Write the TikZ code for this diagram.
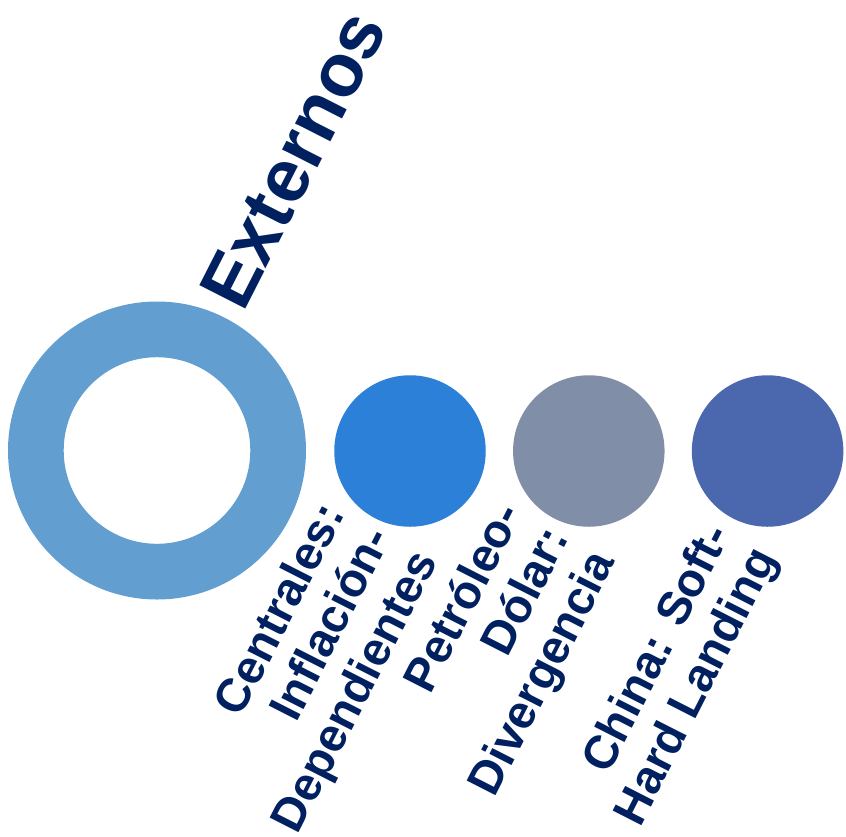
\documentclass[tikz,border=0pt]{standalone}
\usepackage{fontspec}
\setmainfont{Liberation Sans}
\definecolor{ringc}{HTML}{639ED0}
\definecolor{cA}{HTML}{2C80D8}
\definecolor{cB}{HTML}{808EA8}
\definecolor{cC}{HTML}{4B67AE}
\definecolor{navy}{HTML}{002060}
\tikzset{
  dot/.style={circle, inner sep=0pt, minimum size=151.5pt},
  lbl/.style={rotate=63, align=right, anchor=base east, inner sep=0pt, text=navy,
    font=\bfseries\fontsize{47}{52}\selectfont},
  ttl/.style={rotate=63, anchor=base west, inner sep=0pt, text=navy,
    font=\bfseries\fontsize{75}{80}\selectfont}
}
\begin{document}
\begin{tikzpicture}[x=1pt,y=-1pt]
\useasboundingbox (0,0) rectangle (846,836);
\fill[ringc, even odd rule] (157,450.5) circle (149) (157,450.5) circle (93.3);
\coordinate (ring) at (157,450.5);
\node[dot, fill=cA] (c1) at (410,451) {};
\node[dot, fill=cB] (c2) at (588.8,451) {};
\node[dot, fill=cC] (c3) at (767.6,451) {};
\node[ttl] (t) at (243,314) {Externos};
\node[lbl] (l1) at (438,561) {Centrales:\\Inflación-\\Dependientes};
\node[lbl] (l2) at (615.8,561) {Petróleo-\\Dólar:\\Divergencia};
\node[lbl] (l3) at (777.6,558) {China: Soft-\\Hard Landing};
\end{tikzpicture}
\end{document}
